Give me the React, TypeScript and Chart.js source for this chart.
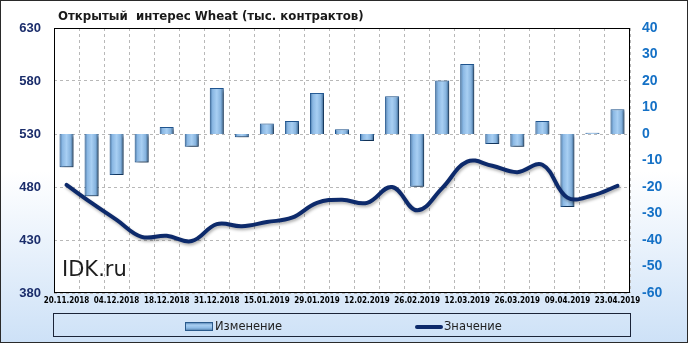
import React, { useEffect, useRef } from 'react';
import { Chart, registerables } from 'chart.js';

Chart.register(...registerables);

const W = 688;
const H = 343;

const titleText = 'Открытый  интерес Wheat (тыс. контрактов)';
const watermark = 'IDK.ru';
const legendBarLabel = 'Изменение';
const legendLineLabel = 'Значение';

const categories = [
  '20.11.2018', '27.11.2018', '04.12.2018', '11.12.2018', '18.12.2018', '24.12.2018',
  '31.12.2018', '08.01.2019', '15.01.2019', '22.01.2019', '29.01.2019', '05.02.2019',
  '12.02.2019', '19.02.2019', '26.02.2019', '05.03.2019', '12.03.2019', '19.03.2019',
  '26.03.2019', '02.04.2019', '09.04.2019', '16.04.2019', '23.04.2019',
];

const changeValues = [
  -12.5, -23.5, -15.5, -10.8, 2.6, -4.8, 17.4, -1.2, 4.0, 4.9, 15.5, 1.8,
  -2.6, 14.2, -19.9, 20.2, 26.4, -3.8, -4.8, 4.9, -27.5, 0.5, 9.3,
];

const openInterest = [
  482, 465, 449, 433, 434, 429, 445, 443, 447, 451, 465, 468,
  465, 480, 458, 479, 504, 500, 494, 501, 470, 472, 481,
];

const leftTicks = { min: 380, max: 630, step: 50 };
const rightTicks = { min: -60, max: 40, step: 10 };

const TICK_FONT = '"DejaVu Sans Condensed", "DejaVu Sans", sans-serif';

const decorPlugin = {
  id: 'decor',
  beforeDraw(chart: any) {
    const { ctx, chartArea: a } = chart;
    ctx.save();
    const g = ctx.createLinearGradient(0, 0, 0, H);
    g.addColorStop(0, '#ffffff');
    g.addColorStop(0.5, '#ffffff');
    g.addColorStop(1, '#cde1f7');
    ctx.fillStyle = g;
    ctx.fillRect(0, 0, W, H);
    ctx.fillStyle = '#ffffff';
    ctx.fillRect(a.left, a.top, a.right - a.left, a.bottom - a.top);
    ctx.restore();
  },
  beforeDatasetDraw(chart: any, args: any) {
    const ctx = chart.ctx;
    ctx.save();
    if (args.meta.type === 'bar') {
      ctx.shadowColor = 'rgba(0,0,0,0.5)';
      ctx.shadowOffsetX = 2;
      ctx.shadowOffsetY = 2;
      ctx.shadowBlur = 3;
    } else {
      ctx.shadowColor = 'rgba(0,0,0,0.3)';
      ctx.shadowOffsetX = 1;
      ctx.shadowOffsetY = 2;
      ctx.shadowBlur = 3;
    }
  },
  afterDatasetDraw(chart: any) {
    chart.ctx.restore();
  },
  afterDraw(chart: any) {
    const { ctx, chartArea: a } = chart;
    ctx.save();
    // plot border
    ctx.strokeStyle = '#000';
    ctx.lineWidth = 1;
    ctx.strokeRect(Math.round(a.left) + 0.5, Math.round(a.top) + 0.5,
      Math.round(a.right - a.left) - 1, Math.round(a.bottom - a.top) - 1);

    // title
    ctx.fillStyle = '#1a1a1a';
    ctx.font = 'bold 11.8px "DejaVu Sans", sans-serif';
    ctx.textBaseline = 'alphabetic';
    ctx.textAlign = 'left';
    ctx.fillText(titleText, 58, 20);

    // watermark
    ctx.fillStyle = '#1e1e1e';
    ctx.font = '21px "DejaVu Sans", sans-serif';
    ctx.fillText(watermark, 62, 276);

    // legend box
    ctx.strokeStyle = '#1b2438';
    ctx.lineWidth = 1;
    ctx.strokeRect(53.5, 313.5, 577, 23);

    // bar icon
    const gx = ctx.createLinearGradient(0, 322, 0, 332);
    gx.addColorStop(0, '#3d6fa3');
    gx.addColorStop(0.3, '#a9cff2');
    gx.addColorStop(0.6, '#8dbbe6');
    gx.addColorStop(1, '#2c5783');
    ctx.fillStyle = gx;
    ctx.fillRect(185, 322, 28, 9);
    ctx.strokeStyle = '#2a5a8c';
    ctx.strokeRect(185.5, 322.5, 27, 8);

    ctx.fillStyle = '#1e1e1e';
    ctx.font = '11.5px "DejaVu Sans", sans-serif';
    ctx.textBaseline = 'middle';
    ctx.fillText(legendBarLabel, 215, 327);

    // line icon
    ctx.strokeStyle = '#0d2a6b';
    ctx.lineWidth = 4;
    ctx.lineCap = 'round';
    ctx.beginPath();
    ctx.moveTo(417, 327);
    ctx.lineTo(441, 327);
    ctx.stroke();
    ctx.fillText(legendLineLabel, 444, 327);

    // outer border
    ctx.lineWidth = 1;
    ctx.lineCap = 'butt';
    ctx.strokeStyle = '#2a2a2a';
    ctx.strokeRect(0.5, 0.5, W - 1, H - 1);
    ctx.restore();
  },
};

function barGradient(c: any) {
  const chart = c.chart;
  const xs = chart.scales && chart.scales.x;
  if (!xs || c.dataIndex === undefined) return '#9cc3e8';
  const cx = xs.getPixelForValue(c.dataIndex);
  if (!isFinite(cx)) return '#9cc3e8';
  const g = chart.ctx.createLinearGradient(cx - 7, 0, cx + 7, 0);
  g.addColorStop(0, '#3f6f9f');
  g.addColorStop(0.2, '#8ab7e3');
  g.addColorStop(0.5, '#a8cff3');
  g.addColorStop(0.78, '#86b3de');
  g.addColorStop(1, '#2d5a86');
  return g;
}

export default function App() {
  const ref = useRef<HTMLCanvasElement | null>(null);

  useEffect(() => {
    document.body.style.margin = '0';
    const canvas = ref.current;
    if (!canvas) return;
    const chart = new Chart(canvas, {
      type: 'bar',
      data: {
        labels: categories,
        datasets: [
          {
            type: 'line',
            label: legendLineLabel,
            data: openInterest,
            yAxisID: 'y',
            borderColor: '#0d2a6b',
            borderWidth: 4,
            tension: 0.4,
            pointRadius: 0,
            fill: false,
            order: 0,
            borderCapStyle: 'round',
          } as any,
          {
            type: 'bar',
            label: legendBarLabel,
            data: changeValues,
            yAxisID: 'y1',
            backgroundColor: barGradient,
            borderColor: '#1f5590',
            borderWidth: 1,
            barPercentage: 0.56,
            categoryPercentage: 1,
            order: 1,
          } as any,
        ],
      },
      options: {
        responsive: false,
        animation: false,
        devicePixelRatio: 1,
        layout: { padding: { top: 28, bottom: 30, left: 0, right: 0 } },
        plugins: {
          legend: { display: false },
          title: { display: false },
          tooltip: { enabled: false },
        },
        scales: {
          x: {
            type: 'category',
            offset: true,
            grid: { offset: true, color: '#b8b8b8', drawTicks: false },
            border: { display: false, dash: [3, 3] },
            ticks: {
              autoSkip: false,
              maxRotation: 0,
              minRotation: 0,
              padding: 3,
              color: '#000',
              font: { family: TICK_FONT, size: 8, weight: 'bold' },
              callback: (_v: any, i: number) => (i % 2 === 0 ? categories[i] : ''),
            },
            afterFit: (s: any) => { s.height = 20; },
          },
          y: {
            position: 'left',
            min: leftTicks.min,
            max: leftTicks.max,
            grid: { color: '#b8b8b8', drawTicks: false },
            border: { display: false, dash: [3, 3] },
            ticks: {
              stepSize: leftTicks.step,
              padding: 13,
              color: '#1b2d6b',
              font: { family: '"Liberation Sans", Arial, sans-serif', size: 13, weight: 'bold' },
            },
            afterFit: (s: any) => { s.width = 54; },
          },
          y1: {
            position: 'right',
            min: rightTicks.min,
            max: rightTicks.max,
            grid: { display: false, drawTicks: false },
            border: { display: false },
            ticks: {
              stepSize: rightTicks.step,
              padding: 12,
              color: '#1571c6',
              font: { family: '"Liberation Sans", Arial, sans-serif', size: 14, weight: 'bold' },
            },
            afterFit: (s: any) => { s.width = 58; },
          },
        },
      },
      plugins: [decorPlugin],
    } as any);
    return () => chart.destroy();
  }, []);

  return (
    <div style={{ position: 'absolute', left: 0, top: 0, width: W, height: H }}>
      <canvas ref={ref} width={W} height={H} style={{ display: 'block', width: W, height: H }} />
    </div>
  );
}
